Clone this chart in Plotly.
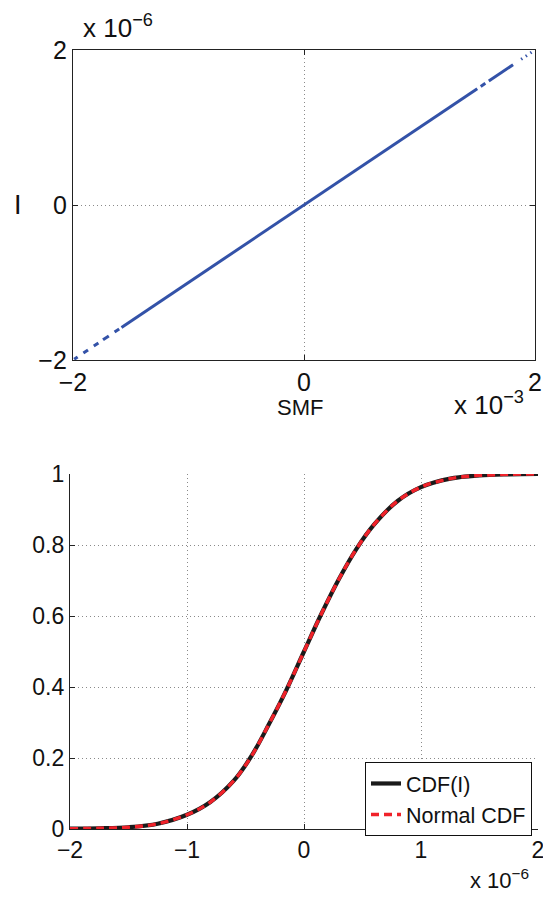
import plotly.graph_objects as go

# ---- Top panel: I versus SMF (scatter along a line, gaps = sparse tails) ----
smf_e3 = [-1.99, -1.96, None, -1.91, -1.87, None, -1.82, -1.78, None, -1.74, -1.69,
          None, -1.64, -1.60, None,
          -1.58, -1.25, -1.0, -0.75, -0.5, -0.25, 0.0, 0.25, 0.5, 0.75, 1.0, 1.25, 1.50,
          None, 1.53, 1.57, None, 1.60, 1.70, 1.81, None, 1.88, 1.89, None, 1.92, 1.93,
          None, 1.96, 1.97]
i_e6 = [-1.99, -1.96, None, -1.91, -1.87, None, -1.82, -1.78, None, -1.74, -1.69,
        None, -1.64, -1.60, None,
        -1.58, -1.25, -1.0, -0.75, -0.5, -0.25, 0.0, 0.25, 0.5, 0.75, 1.0, 1.25, 1.50,
        None, 1.53, 1.57, None, 1.60, 1.70, 1.81, None, 1.88, 1.89, None, 1.92, 1.93,
        None, 1.96, 1.97]

# ---- Bottom panel: empirical CDF of I and the fitted normal CDF ----
cdf_x_e6 = [-2.0, -1.75, -1.5, -1.25, -1.0, -0.8, -0.6, -0.45, -0.3, -0.15, 0.0,
            0.15, 0.3, 0.45, 0.6, 0.8, 1.0, 1.25, 1.5, 1.75, 2.0]
cdf_emp = [0.001, 0.002, 0.005, 0.015, 0.040, 0.076, 0.136, 0.205, 0.295, 0.392, 0.500,
           0.607, 0.705, 0.790, 0.858, 0.924, 0.963, 0.987, 0.996, 0.999, 1.000]
cdf_norm = [0.001, 0.002, 0.005, 0.015, 0.040, 0.076, 0.136, 0.205, 0.295, 0.392, 0.500,
            0.607, 0.705, 0.790, 0.858, 0.924, 0.963, 0.987, 0.996, 0.999, 1.000]

top_ticks = [-2, 0, 2]
bot_xticks = [-2, -1, 0, 1, 2]
bot_yticks = [0, 0.2, 0.4, 0.6, 0.8, 1.0]
bot_ylabels = ["0", "0.2", "0.4", "0.6", "0.8", "1"]

def scale(vals, f):
    return [None if v is None else v * f for v in vals]

def lab(v):
    return ("\u2212" + str(abs(v))) if v < 0 else str(v)

FONT = "Liberation Sans, Arial, sans-serif"
W, H = 543, 899

fig = go.Figure()

fig.add_trace(go.Scatter(
    x=scale(smf_e3, 1e-3), y=scale(i_e6, 1e-6), mode="lines",
    line=dict(color="#3352a8", width=3), connectgaps=False,
    showlegend=False, xaxis="x", yaxis="y"))

fig.add_trace(go.Scatter(
    x=scale(cdf_x_e6, 1e-6), y=cdf_emp, mode="lines", name="CDF(I)",
    line=dict(color="#1a1a1a", width=4.2, shape="spline", smoothing=1.0),
    xaxis="x2", yaxis="y2"))
fig.add_trace(go.Scatter(
    x=scale(cdf_x_e6, 1e-6), y=cdf_norm, mode="lines", name="Normal CDF",
    line=dict(color="#f0222a", width=3.4, dash="8px,5px", shape="spline", smoothing=1.0),
    xaxis="x2", yaxis="y2"))

def axis_style(size):
    return dict(showgrid=True, gridcolor="#8a8a8a", griddash="1px,3px", gridwidth=1,
                zeroline=False, showline=True, linecolor="#222", linewidth=1.3,
                ticks="inside", ticklen=5, tickcolor="#222", automargin=False,
                ticklabeloverflow="allow",
                tickfont=dict(family=FONT, size=size, color="#111"))

fig.update_layout(
    width=W, height=H, margin=dict(l=0, r=0, t=0, b=0, autoexpand=False),
    paper_bgcolor="white", plot_bgcolor="white",
    font=dict(family=FONT, color="#111"),
    xaxis=dict(domain=[73 / W, 535 / W], range=[-2e-3, 2e-3], anchor="y",
               tickvals=[t * 1e-3 for t in top_ticks],
               ticktext=[lab(t) for t in top_ticks], mirror="ticks", **axis_style(25)),
    yaxis=dict(domain=[1 - 360 / H, 1 - 50 / H], range=[-2e-6, 2e-6], anchor="x",
               tickvals=[t * 1e-6 for t in top_ticks],
               ticktext=[lab(t) for t in top_ticks], mirror="ticks", **axis_style(25)),
    xaxis2=dict(domain=[70 / W, 538 / W], range=[-2e-6, 2e-6], anchor="y2",
                tickvals=[t * 1e-6 for t in bot_xticks],
                ticktext=[lab(t) for t in bot_xticks], **axis_style(23)),
    yaxis2=dict(domain=[1 - 829 / H, 1 - 474 / H], range=[0, 1], anchor="x2",
                tickvals=bot_yticks, ticktext=bot_ylabels, **axis_style(23)),
    legend=dict(x=532 / W, y=1 - 762 / H, xanchor="right", yanchor="top",
                bgcolor="white", bordercolor="#111", borderwidth=1,
                font=dict(family=FONT, size=21.5, color="#111"),
                itemwidth=30, tracegroupgap=0),
)

ann = [
    dict(text="x 10<sup>\u22126</sup>", x=81 / W, y=1 - 45 / H, xanchor="left",
         yanchor="bottom", font=dict(size=26)),
    dict(text="I", x=18 / W, y=1 - 205 / H, xanchor="center", yanchor="middle",
         font=dict(size=27)),
    dict(text="SMF", x=300 / W, y=1 - 407 / H, xanchor="center", yanchor="middle",
         font=dict(size=22)),
    dict(text="x 10<sup>\u22123</sup>", x=452 / W, y=1 - 422 / H, xanchor="left",
         yanchor="bottom", font=dict(size=26)),
    dict(text="x 10<sup>\u22126</sup>", x=468 / W, y=1 - 895 / H, xanchor="left",
         yanchor="bottom", font=dict(size=22)),
]
for a in ann:
    a.update(xref="paper", yref="paper", showarrow=False)
    a["font"] = dict(family=FONT, color="#111", **a["font"])
fig.update_layout(annotations=ann)

fig.write_html("out.html")
